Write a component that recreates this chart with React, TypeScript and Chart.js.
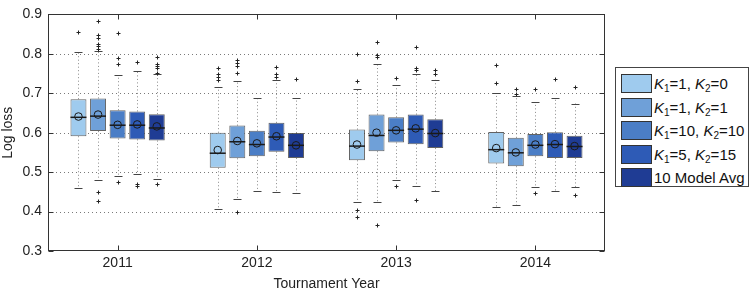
import React, { useEffect, useRef } from 'react';
import { Chart, registerables } from 'chart.js';

Chart.register(...registerables);

// ---- Data ----
const years = ['2011', '2012', '2013', '2014'];
const seriesLabels = ['K1=1, K2=0', 'K1=1, K2=1', 'K1=10, K2=10', 'K1=5, K2=15', '10 Model Avg'];
const seriesColors = ['#9fcbee', '#6fa0d8', '#4b7ec6', '#2e5bb6', '#1f3c94'];

// rows = series, columns = years
const q1 = [
  [0.591, 0.511, 0.530, 0.522],
  [0.604, 0.535, 0.553, 0.515],
  [0.585, 0.540, 0.575, 0.540],
  [0.583, 0.552, 0.571, 0.536],
  [0.580, 0.536, 0.561, 0.536],
];
const q3 = [
  [0.685, 0.600, 0.608, 0.602],
  [0.687, 0.618, 0.646, 0.587],
  [0.657, 0.605, 0.639, 0.597],
  [0.654, 0.625, 0.646, 0.601],
  [0.647, 0.599, 0.634, 0.592],
];
const medians = [
  [0.639, 0.548, 0.566, 0.557],
  [0.642, 0.577, 0.593, 0.549],
  [0.619, 0.570, 0.606, 0.568],
  [0.619, 0.589, 0.609, 0.570],
  [0.612, 0.568, 0.598, 0.565],
];
const means = [
  [0.641, 0.556, 0.570, 0.561],
  [0.646, 0.579, 0.600, 0.550],
  [0.620, 0.573, 0.606, 0.570],
  [0.621, 0.591, 0.611, 0.571],
  [0.616, 0.568, 0.599, 0.566],
];
const whiskerLow = [
  [0.461, 0.406, 0.424, 0.412],
  [0.481, 0.431, 0.423, 0.416],
  [0.489, 0.452, 0.480, 0.462],
  [0.496, 0.450, 0.466, 0.452],
  [0.483, 0.447, 0.452, 0.462],
];
const whiskerHigh = [
  [0.805, 0.716, 0.712, 0.700],
  [0.807, 0.731, 0.773, 0.693],
  [0.746, 0.688, 0.720, 0.677],
  [0.757, 0.733, 0.749, 0.687],
  [0.748, 0.688, 0.734, 0.674],
];
const outliers = [
  [[0.856], [0.765, 0.750, 0.742, 0.734], [0.799, 0.731, 0.404, 0.386], [0.771, 0.726]],
  [[0.883, 0.847, 0.841, 0.825, 0.819, 0.813, 0.450, 0.428], [0.784, 0.776, 0.769, 0.752, 0.398], [0.831, 0.798, 0.793, 0.366], [0.710, 0.697]],
  [[0.854, 0.790, 0.773, 0.476], [], [0.739, 0.466], [0.710, 0.448]],
  [[0.779, 0.471, 0.465], [0.766, 0.749, 0.741], [0.818, 0.765, 0.760, 0.429], [0.736]],
  [[0.793, 0.775, 0.769, 0.765, 0.751, 0.470], [0.737], [0.758, 0.748], [0.716, 0.441]],
];
const yTicks = { min: 0.3, max: 0.9, step: 0.1 };

const FONT = '"Liberation Sans", Arial, Helvetica, sans-serif';

const boxPlugin = {
  id: 'boxExtras',
  beforeDatasetsDraw(chart: any) {
    const { ctx, chartArea: a, scales } = chart;
    const y = scales.y;
    ctx.save();
    // dotted grid
    ctx.strokeStyle = '#7a7a7a';
    ctx.lineWidth = 1;
    ctx.setLineDash([1, 3]);
    y.ticks.forEach((t: any) => {
      if (t.value <= y.min + 1e-9 || t.value >= y.max - 1e-9) return;
      const py = Math.round(y.getPixelForValue(t.value)) + 0.5;
      ctx.beginPath();
      ctx.moveTo(a.left, py);
      ctx.lineTo(a.right, py);
      ctx.stroke();
    });
    // whiskers
    ctx.strokeStyle = '#8a8a8a';
    ctx.setLineDash([1, 2.5]);
    chart.data.datasets.forEach((_ds: any, si: number) => {
      const meta = chart.getDatasetMeta(si);
      meta.data.forEach((bar: any, yi: number) => {
        const x = Math.round(bar.x) + 0.5;
        ctx.beginPath();
        ctx.moveTo(x, y.getPixelForValue(q3[si][yi]));
        ctx.lineTo(x, y.getPixelForValue(whiskerHigh[si][yi]));
        ctx.moveTo(x, y.getPixelForValue(q1[si][yi]));
        ctx.lineTo(x, y.getPixelForValue(whiskerLow[si][yi]));
        ctx.stroke();
      });
    });
    ctx.restore();
  },
  afterDatasetsDraw(chart: any) {
    const { ctx, chartArea: a, scales } = chart;
    const y = scales.y;
    const xs = scales.x;
    ctx.save();
    ctx.setLineDash([]);
    chart.data.datasets.forEach((_ds: any, si: number) => {
      const meta = chart.getDatasetMeta(si);
      meta.data.forEach((bar: any, yi: number) => {
        const x = Math.round(bar.x) + 0.5;
        const hw = bar.width / 2;
        // caps
        ctx.strokeStyle = '#444';
        ctx.lineWidth = 1;
        [whiskerHigh[si][yi], whiskerLow[si][yi]].forEach((v) => {
          const py = Math.round(y.getPixelForValue(v)) + 0.5;
          ctx.beginPath();
          ctx.moveTo(x - 4, py);
          ctx.lineTo(x + 4, py);
          ctx.stroke();
        });
        // median
        ctx.strokeStyle = '#1a1a1a';
        ctx.lineWidth = 1.5;
        const pm = y.getPixelForValue(medians[si][yi]);
        ctx.beginPath();
        ctx.moveTo(bar.x - hw, pm);
        ctx.lineTo(bar.x + hw, pm);
        ctx.stroke();
        // mean circle
        ctx.lineWidth = 1;
        ctx.strokeStyle = '#1a1a1a';
        ctx.beginPath();
        ctx.arc(bar.x, y.getPixelForValue(means[si][yi]), 3.8, 0, Math.PI * 2);
        ctx.stroke();
        // outliers
        ctx.strokeStyle = '#222';
        outliers[si][yi].forEach((v) => {
          const py = Math.round(y.getPixelForValue(v)) + 0.5;
          ctx.beginPath();
          ctx.moveTo(x - 2, py);
          ctx.lineTo(x + 2, py);
          ctx.moveTo(x, py - 2);
          ctx.lineTo(x, py + 2);
          ctx.stroke();
        });
      });
    });
    // frame
    ctx.strokeStyle = '#333';
    ctx.lineWidth = 1;
    const L = Math.round(a.left) + 0.5;
    const R = Math.round(a.right) - 0.5;
    const T = Math.round(a.top) + 0.5;
    const B = Math.round(a.bottom) - 0.5;
    ctx.strokeRect(L, T, R - L, B - T);
    // inward ticks
    ctx.beginPath();
    y.ticks.forEach((t: any) => {
      const py = Math.round(y.getPixelForValue(t.value)) + 0.5;
      ctx.moveTo(L, py);
      ctx.lineTo(L + 5, py);
      ctx.moveTo(R, py);
      ctx.lineTo(R - 5, py);
    });
    years.forEach((_yr, i) => {
      const px = Math.round(xs.getPixelForValue(i)) + 0.5;
      ctx.moveTo(px, B);
      ctx.lineTo(px, B - 5);
      ctx.moveTo(px, T);
      ctx.lineTo(px, T + 5);
    });
    ctx.stroke();
    ctx.restore();
  },
};

function LegendLabel({ text }: { text: string }) {
  const m = text.match(/^K1=(\d+), K2=(\d+)$/);
  if (!m) return <span>{text}</span>;
  const sub: React.CSSProperties = { fontSize: 10, position: 'relative', top: 3, verticalAlign: 'baseline', lineHeight: 0 };
  return (
    <span>
      <i>K</i><span style={sub}>1</span>={m[1]}, <i>K</i><span style={sub}>2</span>={m[2]}
    </span>
  );
}

export default function App() {
  const canvasRef = useRef<HTMLCanvasElement | null>(null);

  useEffect(() => {
    if (!canvasRef.current) return;
    const chart = new Chart(canvasRef.current, {
      type: 'bar',
      data: {
        labels: years,
        datasets: seriesLabels.map((label, si) => ({
          label,
          data: years.map((_y, yi) => [q1[si][yi], q3[si][yi]]),
          backgroundColor: seriesColors[si],
          borderColor: 'rgba(70,70,70,0.85)',
          borderWidth: 1,
          borderSkipped: false,
          categoryPercentage: 0.703,
          barPercentage: 0.816,
        })) as any,
      },
      options: {
        animation: false,
        responsive: false,
        devicePixelRatio: 1,
        layout: { padding: { top: 7, right: 146, left: 0, bottom: 0 } },
        plugins: { legend: { display: false }, tooltip: { enabled: false } },
        scales: {
          x: {
            grid: { display: false, drawTicks: false },
            border: { display: false },
            ticks: { color: '#222', font: { family: FONT, size: 14 }, padding: 4 },
            title: { display: true, text: 'Tournament Year', color: '#222', font: { family: FONT, size: 14 }, padding: { top: 0, bottom: 1 } },
            afterFit: (s: any) => { s.height = 43; },
          },
          y: {
            min: yTicks.min,
            max: yTicks.max,
            grid: { display: false, drawTicks: false },
            border: { display: false },
            ticks: {
              stepSize: yTicks.step,
              color: '#222',
              font: { family: FONT, size: 14 },
              padding: 6,
              callback: (v: any) => Number(v).toFixed(1),
            },
            title: { display: true, text: 'Log loss', color: '#222', font: { family: FONT, size: 14 }, padding: { top: 0, bottom: 0 } },
            afterFit: (s: any) => { s.width = 48; },
          },
        },
      },
      plugins: [boxPlugin],
    } as any);
    return () => chart.destroy();
  }, []);

  const legendTop = 74;
  const pitch = 23.5;

  return (
    <div style={{ position: 'fixed', left: 0, top: 0, width: 751, height: 294, background: '#fff', overflow: 'hidden' }}>
      <canvas ref={canvasRef} width={751} height={294} style={{ display: 'block', width: 751, height: 294 }} />
      <div style={{ position: 'absolute', left: 615, top: 67, width: 134, height: 120, border: '1px solid #444', background: '#fff', boxSizing: 'border-box' }} />
      {seriesLabels.map((label, i) => (
        <React.Fragment key={label}>
          <div style={{
            position: 'absolute', left: 621, top: legendTop + i * pitch, width: 31, height: 19,
            background: seriesColors[i], border: '1px solid #333', boxSizing: 'border-box',
          }} />
          <div style={{
            position: 'absolute', left: 654, top: legendTop + i * pitch, height: 19, lineHeight: '19px',
            fontFamily: FONT, fontSize: 15, color: '#111', whiteSpace: 'nowrap',
          }}>
            <LegendLabel text={label} />
          </div>
        </React.Fragment>
      ))}
    </div>
  );
}
